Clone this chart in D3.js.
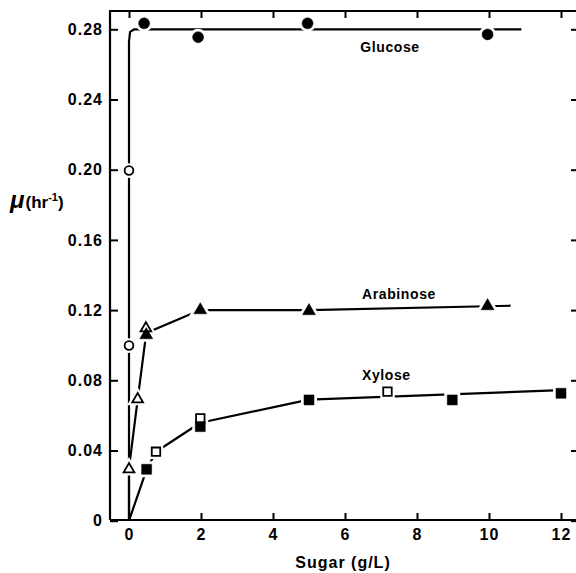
<!DOCTYPE html>
<html>
  <head>
    <script src="https://d3js.org/d3.v7.min.js"></script>
  </head>
  <body>
    <svg id="viz" width="576" height="573"></svg>
  </body>
  <script>
    // values: [sugar g/L, mu 1/hr]
    const glucoseFilled = [[0.42, 0.2834], [1.92, 0.2755], [4.96, 0.2834], [9.96, 0.2771]];
    const glucoseOpen = [[0, 0.1995], [0, 0.0998]];
    const glucoseCurve = [[0, 0], [0, 0.273], [0.03, 0.2785], [0.15, 0.28], [10.9, 0.28]];

    const arabinoseFilled = [[0.48, 0.1058], [1.98, 0.12], [5.0, 0.1195], [9.96, 0.1223]];
    const arabinoseOpen = [[0, 0.0293], [0.24, 0.0692], [0.47, 0.1096]];
    const arabinoseCurve = [[0, 0], [0, 0.03], [0.24, 0.069], [0.48, 0.107], [1.98, 0.12], [5.0, 0.12], [9.96, 0.1222], [10.6, 0.1225]];

    const xyloseFilled = [[0.49, 0.0293], [1.98, 0.0536], [5.0, 0.0688], [8.98, 0.0688], [12.0, 0.0726]];
    const xyloseOpen = [[0.75, 0.0393], [1.98, 0.0583], [7.18, 0.0735]];
    const xyloseCurve = [[0, 0], [0.49, 0.0293], [0.75, 0.0393], [1.98, 0.0558], [5.0, 0.069], [12.0, 0.0744]];

    const xTicks = [0, 2, 4, 6, 8, 10, 12];
    const yTicks = [0, 0.04, 0.08, 0.12, 0.16, 0.2, 0.24, 0.28];
    const curveLabels = ["Glucose", "Arabinose", "Xylose"];
    const labelAt = [[7.25, 0.2672], [7.5, 0.1262], [7.15, 0.0802]];

    function draw() {
      const svg = d3.select("svg#viz");
      const font = "'Liberation Sans', Arial, sans-serif";

      const left = 110, top = 11, right = 578, bottom = 520;

      const x = d3.scaleLinear().domain([0, 12]).range([129, 561]);
      const y = d3.scaleLinear().domain([0, 0.28]).range([520.7, 29.3]);

      svg.append("rect").attr("width", 576).attr("height", 573).attr("fill", "white");

      // frame
      svg.append("path")
        .attr("d", `M${left},${bottom}V${top}H${right}V${bottom}H${left}`)
        .attr("fill", "none")
        .attr("stroke", "black")
        .attr("stroke-width", 2.2);

      const fmtY = (d) => (d === 0 ? "0" : d.toFixed(2));

      const styleAxis = (g) => {
        g.select(".domain").remove();
        g.selectAll("line").attr("stroke", "black").attr("stroke-width", 2);
        g.selectAll("text")
          .attr("fill", "black")
          .attr("font-family", font)
          .attr("font-weight", "bold")
          .attr("font-size", 16)
          .attr("letter-spacing", 1);
      };

      svg.append("g")
        .attr("transform", `translate(0,${bottom})`)
        .call(d3.axisBottom(x).tickValues(xTicks).tickSizeInner(-7).tickSizeOuter(0).tickPadding(9))
        .call(styleAxis)
        .selectAll("text").attr("dy", "0.71em");

      svg.append("g")
        .attr("transform", `translate(0,${top})`)
        .call(d3.axisTop(x).tickValues(xTicks).tickSizeInner(-7).tickSizeOuter(0).tickFormat(""))
        .call(styleAxis);

      svg.append("g")
        .attr("transform", `translate(${left},0)`)
        .call(d3.axisLeft(y).tickValues(yTicks).tickSizeInner(-8).tickSizeOuter(0).tickPadding(7).tickFormat(fmtY))
        .call(styleAxis);

      svg.append("g")
        .attr("transform", `translate(${right},0)`)
        .call(d3.axisRight(y).tickValues(yTicks).tickSizeInner(-7).tickSizeOuter(0).tickFormat(""))
        .call(styleAxis);

      // axis titles
      svg.append("text")
        .attr("x", 343)
        .attr("y", 568)
        .attr("text-anchor", "middle")
        .attr("font-family", font)
        .attr("font-weight", "bold")
        .attr("font-size", 16)
        .attr("letter-spacing", 1)
        .text("Sugar (g/L)");

      const yt = svg.append("text")
        .attr("x", 10)
        .attr("y", 208)
        .attr("font-family", font)
        .attr("font-weight", "bold")
        .attr("font-size", 17);
      yt.append("tspan").attr("font-style", "italic").attr("font-size", 24).text("μ");
      yt.append("tspan").attr("dx", 1).text("(hr");
      yt.append("tspan").attr("dy", -7).attr("font-size", 11).text("-1");
      yt.append("tspan").attr("dy", 7).text(")");

      // fitted curves
      const line = d3.line().x((d) => x(d[0])).y((d) => y(d[1]));
      [glucoseCurve, arabinoseCurve, xyloseCurve].forEach((c) => {
        svg.append("path")
          .attr("d", line(c))
          .attr("fill", "none")
          .attr("stroke", "black")
          .attr("stroke-width", 2.2)
          .attr("stroke-linejoin", "round");
      });

      const sets = [
        { data: glucoseFilled, type: d3.symbolCircle, size: 95, open: false },
        { data: glucoseOpen, type: d3.symbolCircle, size: 60, open: true },
        { data: arabinoseOpen, type: d3.symbolTriangle, size: 50, open: true },
        { data: arabinoseFilled, type: d3.symbolTriangle, size: 72, open: false },
        { data: xyloseOpen, type: d3.symbolSquare, size: 72, open: true },
        { data: xyloseFilled, type: d3.symbolSquare, size: 100, open: false },
      ];

      // white halos make the gaps in the lines around the markers
      sets.forEach((s) => {
        svg.append("g")
          .selectAll("path")
          .data(s.data)
          .join("path")
          .attr("transform", (d) => `translate(${x(d[0])},${y(d[1])})`)
          .attr("d", d3.symbol(s.type, s.size))
          .attr("fill", "white")
          .attr("stroke", "white")
          .attr("stroke-width", 6);
      });

      sets.forEach((s) => {
        svg.append("g")
          .selectAll("path")
          .data(s.data)
          .join("path")
          .attr("transform", (d) => `translate(${x(d[0])},${y(d[1])})`)
          .attr("d", d3.symbol(s.type, s.size))
          .attr("fill", s.open ? "white" : "black")
          .attr("stroke", "black")
          .attr("stroke-width", s.open ? 1.8 : 0.5);
      });

      svg.append("g")
        .selectAll("text")
        .data(curveLabels)
        .join("text")
        .attr("x", (d, i) => x(labelAt[i][0]))
        .attr("y", (d, i) => y(labelAt[i][1]))
        .attr("text-anchor", "middle")
        .attr("font-family", font)
        .attr("font-weight", "bold")
        .attr("font-size", 14)
        .attr("letter-spacing", 0.6)
        .text((d) => d);
    }

    draw();
  </script>
  <style>
    body {
      margin: 0px;
    }
  </style>
</html>
